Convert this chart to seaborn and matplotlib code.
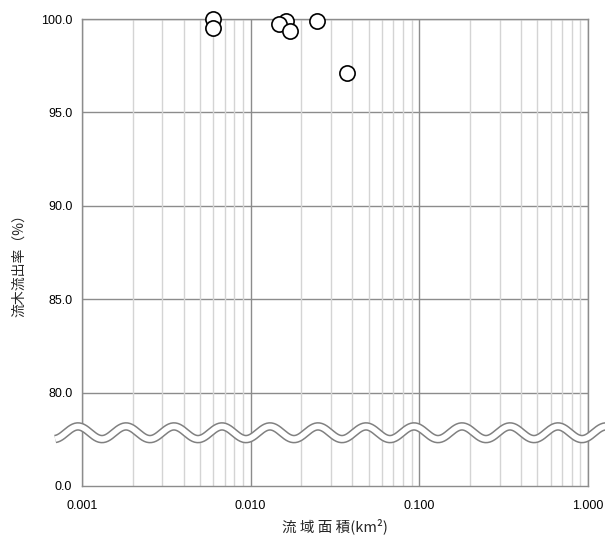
import numpy as np
import pandas as pd
import matplotlib
matplotlib.use("Agg")
import matplotlib.pyplot as plt
import matplotlib.ticker as mticker
import seaborn as sns

# data
area_km2 = [0.0060, 0.0060, 0.0163, 0.0148, 0.0171, 0.0249, 0.0371]
outflow_pct = [100.0, 99.5, 99.9, 99.73, 99.37, 99.9, 97.12]

y_ticks = [75, 80, 85, 90, 95, 100]
y_tick_labels = ["0.0", "80.0", "85.0", "90.0", "95.0", "100.0"]
x_ticks = [0.001, 0.01, 0.1, 1.0]
x_tick_labels = ["0.001", "0.010", "0.100", "1.000"]

df = pd.DataFrame({"area": area_km2, "rate": outflow_pct})

sns.set_style("white")
plt.rcParams["font.family"] = ["Liberation Sans", "Noto Sans CJK JP", "DejaVu Sans"]

fig = plt.figure(figsize=(6.05, 5.37), dpi=100)
ax = fig.add_axes([0.1355, 0.0950, 0.8364, 0.8696])

ax.set_xscale("log")
ax.set_xlim(0.001, 1.0)
ax.set_ylim(75, 100)

# grid lines
ax.xaxis.set_major_locator(mticker.FixedLocator(x_ticks))
ax.xaxis.set_minor_locator(mticker.LogLocator(base=10, subs=np.arange(2, 10)))
ax.xaxis.set_major_formatter(mticker.FixedFormatter(x_tick_labels))
ax.xaxis.set_minor_formatter(mticker.NullFormatter())
ax.set_yticks(y_ticks)
ax.set_yticklabels(y_tick_labels)

ax.grid(True, which="major", axis="x", color="#8c8c8c", lw=1.0, zorder=0)
ax.grid(True, which="minor", axis="x", color="#d4d4d4", lw=1.0, zorder=0)
for yv in y_ticks[1:]:
    ax.axhline(yv, color="#8c8c8c", lw=1.0, zorder=0)
ax.set_axisbelow(True)

for s in ax.spines.values():
    s.set_color("#8c8c8c")
    s.set_linewidth(1.0)

ax.tick_params(axis="both", which="major", direction="out", length=4,
               color="#8c8c8c", labelsize=9, colors="black")
ax.tick_params(axis="x", which="minor", length=0)
ax.tick_params(axis="x", pad=6)
ax.tick_params(axis="y", pad=3)
for lab in ax.get_yticklabels() + ax.get_xticklabels():
    lab.set_color("black")

# break mark (wavy double line)
xs = np.linspace(-0.053, 1.04, 600)
ys = 77.85 + 0.34 * np.cos(2 * np.pi * (xs - (78 - 82) / 506) / (48 / 506))
trans = matplotlib.transforms.blended_transform_factory(ax.transAxes, ax.transData)
ax.plot(xs, ys, color="#808080", lw=6.2, transform=trans, clip_on=False,
        solid_capstyle="butt", zorder=5)
ax.plot(xs, ys, color="white", lw=4.0, transform=trans, clip_on=False,
        solid_capstyle="butt", zorder=6)

sns.scatterplot(data=df, x="area", y="rate", ax=ax, s=120, color="white",
                edgecolor="black", linewidth=1.2, zorder=10, clip_on=False,
                legend=False)

ax.set_xlabel("流 域 面 積(km²)", fontsize=10.5, labelpad=5,
              family=["Noto Sans CJK JP", "DejaVu Sans"])
ax.set_ylabel("流木流出率（%）", fontsize=10, labelpad=12,
              family=["Noto Sans CJK JP", "DejaVu Sans"])
ax.yaxis.set_label_coords(-0.111, 0.48)

fig.savefig("out.png", dpi=100)
